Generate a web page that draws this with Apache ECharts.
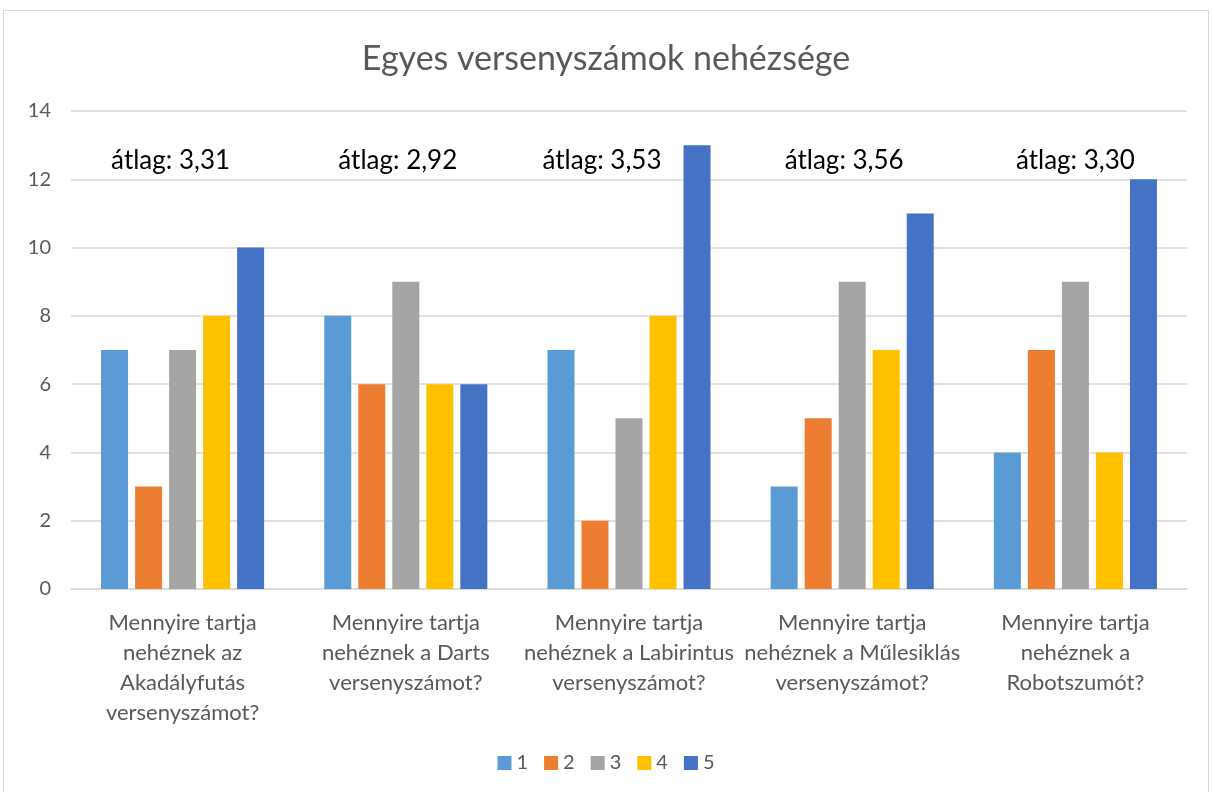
<!DOCTYPE html>
<html>
<head>
<meta charset="utf-8">
<script src="https://cdn.jsdelivr.net/npm/echarts@6/dist/echarts.min.js"></script>
<style>
  html, body { margin: 0; padding: 0; background: #fff; }
  #chart { position: absolute; left: 3px; top: 10px; width: 1206px; height: 790px; border: 1px solid #d9d9d9; box-sizing: border-box; }
</style>
</head>
<body>
<div id="chart"></div>
<script>
const categories = [
  'Mennyire tartja\nnehéznek az\nAkadályfutás\nversenyszámot?',
  'Mennyire tartja\nnehéznek a Darts\nversenyszámot?',
  'Mennyire tartja\nnehéznek a Labirintus\nversenyszámot?',
  'Mennyire tartja\nnehéznek a Műlesiklás\nversenyszámot?',
  'Mennyire tartja\nnehéznek a\nRobotszumót?'
]
const seriesNames = ['1', '2', '3', '4', '5']
const values1 = [7, 8, 7, 3, 4]
const values2 = [3, 6, 2, 5, 7]
const values3 = [7, 9, 5, 9, 9]
const values4 = [8, 6, 8, 7, 4]
const values5 = [10, 6, 13, 11, 12]
const averages = ['3,31', '2,92', '3,53', '3,56', '3,30']
const averageLevel = [12.5, 12.5, 12.5, 12.5, 12.5]
const colors = ['#5B9BD5', '#ED7D31', '#A5A5A5', '#FFC000', '#4472C4']
// the text boxes in the original are placed by hand, a bit left of centre
const labelShift = [-12, -8, -27, -8, 0]

const chart = echarts.init(document.getElementById('chart'))
const font = 'Lato, "Open Sans", sans-serif'
const allValues = [values1, values2, values3, values4, values5]

const barSeries = allValues.map((vals, i) => ({
  name: seriesNames[i],
  type: 'bar',
  data: vals,
  barWidth: 27,
  barGap: '26%',
  itemStyle: { color: colors[i] }
}))

chart.setOption({
  animation: false,
  textStyle: { fontFamily: font },
  title: {
    text: 'Egyes versenyszámok nehézsége',
    left: 'center',
    top: 26,
    textStyle: { fontFamily: font, fontSize: 34, fontWeight: 'normal', color: '#595959' }
  },
  legend: {
    data: seriesNames,
    bottom: 21,
    left: 'center',
    itemWidth: 14,
    itemHeight: 14,
    itemGap: 16,
    icon: 'rect',
    textStyle: { fontFamily: font, fontSize: 20, color: '#595959' }
  },
  grid: { left: 67, right: 21, top: 100, bottom: 210 },
  xAxis: {
    type: 'category',
    data: categories,
    axisTick: { show: false },
    axisLine: { lineStyle: { color: '#d9d9d9', width: 1.5 } },
    axisLabel: { fontFamily: font, fontSize: 22, color: '#595959', lineHeight: 30, margin: 19, interval: 0 }
  },
  yAxis: {
    type: 'value',
    min: 0,
    max: 14,
    interval: 2,
    axisLabel: { fontFamily: font, fontSize: 20, color: '#595959', margin: 20 },
    splitLine: { lineStyle: { color: '#d9d9d9', width: 1.5 } }
  },
  series: barSeries.concat([{
    name: 'átlag',
    type: 'line',
    data: averageLevel.map((v, i) => ({
      value: v,
      label: { offset: [labelShift[i], -2] }
    })),
    symbol: 'circle',
    symbolSize: 1,
    itemStyle: { color: 'transparent' },
    lineStyle: { width: 0, color: 'transparent' },
    label: {
      show: true,
      position: 'inside',
      formatter: p => 'átlag: ' + averages[p.dataIndex],
      fontFamily: font,
      fontSize: 26,
      color: '#000'
    },
    silent: true
  }])
})
</script>
</body>
</html>
